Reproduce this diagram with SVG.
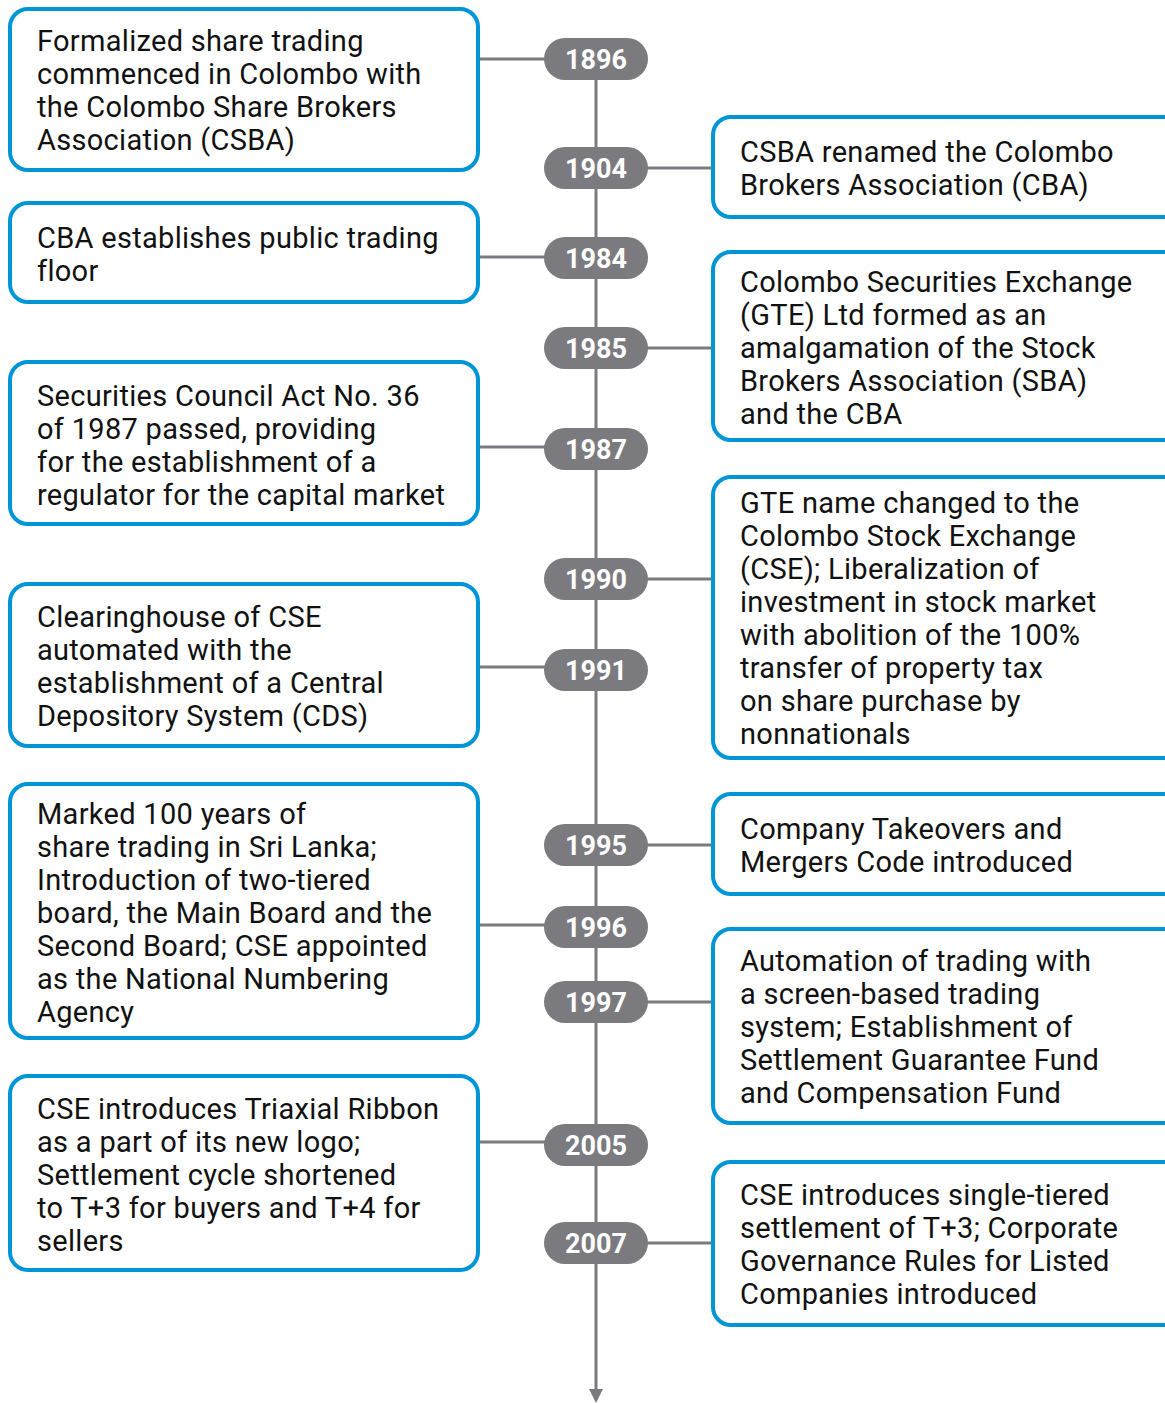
<svg xmlns="http://www.w3.org/2000/svg" width="1165" height="1403" viewBox="0 0 1165 1403">
<style>
.box{fill:#fff;stroke:#0096d6;stroke-width:4}
.t{font-family:Roboto,"Liberation Sans",sans-serif;font-size:29px;letter-spacing:0.3px;fill:#111}
.pill{fill:#7a7a7f}
.yr{font-family:Roboto,"Liberation Sans",sans-serif;font-size:27px;font-weight:bold;fill:#fff;text-anchor:middle}
.c{stroke:#7a7a7f;stroke-width:3;fill:none}
</style>
<g id="connectors">
<line class="c" x1="596" y1="59" x2="596" y2="1390"/>
<path d="M589,1389 L603,1389 L596,1403 Z" fill="#7a7a7f"/>
<line class="c" x1="478" y1="59" x2="596" y2="59"/>
<line class="c" x1="596" y1="168" x2="713" y2="168"/>
<line class="c" x1="478" y1="257" x2="596" y2="257"/>
<line class="c" x1="596" y1="348" x2="713" y2="348"/>
<line class="c" x1="478" y1="447" x2="596" y2="447"/>
<line class="c" x1="596" y1="579" x2="713" y2="579"/>
<line class="c" x1="478" y1="667" x2="596" y2="667"/>
<line class="c" x1="596" y1="845" x2="713" y2="845"/>
<line class="c" x1="478" y1="925" x2="596" y2="925"/>
<line class="c" x1="596" y1="1002" x2="713" y2="1002"/>
<line class="c" x1="478" y1="1142" x2="596" y2="1142"/>
<line class="c" x1="596" y1="1243" x2="713" y2="1243"/>
</g>
<g id="y1896"><rect class="pill" x="544" y="38" width="104" height="42" rx="21"/><text class="yr" x="596" y="69">1896</text></g>
<g id="y1904"><rect class="pill" x="544" y="147" width="104" height="42" rx="21"/><text class="yr" x="596" y="178">1904</text></g>
<g id="y1984"><rect class="pill" x="544" y="237" width="104" height="42" rx="21"/><text class="yr" x="596" y="268">1984</text></g>
<g id="y1985"><rect class="pill" x="544" y="327" width="104" height="42" rx="21"/><text class="yr" x="596" y="358">1985</text></g>
<g id="y1987"><rect class="pill" x="544" y="428" width="104" height="42" rx="21"/><text class="yr" x="596" y="459">1987</text></g>
<g id="y1990"><rect class="pill" x="544" y="558" width="104" height="42" rx="21"/><text class="yr" x="596" y="589">1990</text></g>
<g id="y1991"><rect class="pill" x="544" y="649" width="104" height="42" rx="21"/><text class="yr" x="596" y="680">1991</text></g>
<g id="y1995"><rect class="pill" x="544" y="824" width="104" height="42" rx="21"/><text class="yr" x="596" y="855">1995</text></g>
<g id="y1996"><rect class="pill" x="544" y="906" width="104" height="42" rx="21"/><text class="yr" x="596" y="937">1996</text></g>
<g id="y1997"><rect class="pill" x="544" y="981" width="104" height="42" rx="21"/><text class="yr" x="596" y="1012">1997</text></g>
<g id="y2005"><rect class="pill" x="544" y="1124" width="104" height="42" rx="21"/><text class="yr" x="596" y="1155">2005</text></g>
<g id="y2007"><rect class="pill" x="544" y="1222" width="104" height="42" rx="21"/><text class="yr" x="596" y="1253">2007</text></g>

<g id="n1896"><rect class="box" x="10" y="9" width="468" height="161" rx="18"/>
<text class="t"><tspan x="37" y="51">Formalized share trading</tspan><tspan x="37" y="84">commenced in Colombo with</tspan><tspan x="37" y="117">the Colombo Share Brokers</tspan><tspan x="37" y="150">Association (CSBA)</tspan></text></g>
<g id="n1904"><rect class="box" x="713" y="117" width="470" height="100" rx="18"/>
<text class="t"><tspan x="740" y="162">CSBA renamed the Colombo</tspan><tspan x="740" y="195">Brokers Association (CBA)</tspan></text></g>
<g id="n1984"><rect class="box" x="10" y="203" width="468" height="99" rx="18"/>
<text class="t"><tspan x="37" y="248">CBA establishes public trading</tspan><tspan x="37" y="281">floor</tspan></text></g>
<g id="n1985"><rect class="box" x="713" y="252" width="470" height="188" rx="18"/>
<text class="t"><tspan x="740" y="292">Colombo Securities Exchange</tspan><tspan x="740" y="325">(GTE) Ltd formed as an</tspan><tspan x="740" y="358">amalgamation of the Stock</tspan><tspan x="740" y="391">Brokers Association (SBA)</tspan><tspan x="740" y="424">and the CBA</tspan></text></g>
<g id="n1987"><rect class="box" x="10" y="362" width="468" height="162" rx="18"/>
<text class="t"><tspan x="37" y="406">Securities Council Act No. 36</tspan><tspan x="37" y="439">of 1987 passed, providing</tspan><tspan x="37" y="472">for the establishment of a</tspan><tspan x="37" y="505">regulator for the capital market</tspan></text></g>
<g id="n1990"><rect class="box" x="713" y="477" width="470" height="281" rx="18"/>
<text class="t"><tspan x="740" y="513">GTE name changed to the</tspan><tspan x="740" y="546">Colombo Stock Exchange</tspan><tspan x="740" y="579">(CSE); Liberalization of</tspan><tspan x="740" y="612">investment in stock market</tspan><tspan x="740" y="645">with abolition of the 100%</tspan><tspan x="740" y="678">transfer of property tax</tspan><tspan x="740" y="711">on share purchase by</tspan><tspan x="740" y="744">nonnationals</tspan></text></g>
<g id="n1991"><rect class="box" x="10" y="584" width="468" height="162" rx="18"/>
<text class="t"><tspan x="37" y="627">Clearinghouse of CSE</tspan><tspan x="37" y="660">automated with the</tspan><tspan x="37" y="693">establishment of a Central</tspan><tspan x="37" y="726">Depository System (CDS)</tspan></text></g>
<g id="n1995"><rect class="box" x="713" y="794" width="470" height="100" rx="18"/>
<text class="t"><tspan x="740" y="839">Company Takeovers and</tspan><tspan x="740" y="872">Mergers Code introduced</tspan></text></g>
<g id="n1996"><rect class="box" x="10" y="784" width="468" height="254" rx="18"/>
<text class="t"><tspan x="37" y="824">Marked 100 years of</tspan><tspan x="37" y="857">share trading in Sri Lanka;</tspan><tspan x="37" y="890">Introduction of two-tiered</tspan><tspan x="37" y="923">board, the Main Board and the</tspan><tspan x="37" y="956">Second Board; CSE appointed</tspan><tspan x="37" y="989">as the National Numbering</tspan><tspan x="37" y="1022">Agency</tspan></text></g>
<g id="n1997"><rect class="box" x="713" y="929" width="470" height="194" rx="18"/>
<text class="t"><tspan x="740" y="971">Automation of trading with</tspan><tspan x="740" y="1004">a screen-based trading</tspan><tspan x="740" y="1037">system; Establishment of</tspan><tspan x="740" y="1070">Settlement Guarantee Fund</tspan><tspan x="740" y="1103">and Compensation Fund</tspan></text></g>
<g id="n2005"><rect class="box" x="10" y="1076" width="468" height="194" rx="18"/>
<text class="t"><tspan x="37" y="1119">CSE introduces Triaxial Ribbon</tspan><tspan x="37" y="1152">as a part of its new logo;</tspan><tspan x="37" y="1185">Settlement cycle shortened</tspan><tspan x="37" y="1218">to T+3 for buyers and T+4 for</tspan><tspan x="37" y="1251">sellers</tspan></text></g>
<g id="n2007"><rect class="box" x="713" y="1162" width="470" height="163" rx="18"/>
<text class="t"><tspan x="740" y="1205">CSE introduces single-tiered</tspan><tspan x="740" y="1238">settlement of T+3; Corporate</tspan><tspan x="740" y="1271">Governance Rules for Listed</tspan><tspan x="740" y="1304">Companies introduced</tspan></text></g>
</svg>
